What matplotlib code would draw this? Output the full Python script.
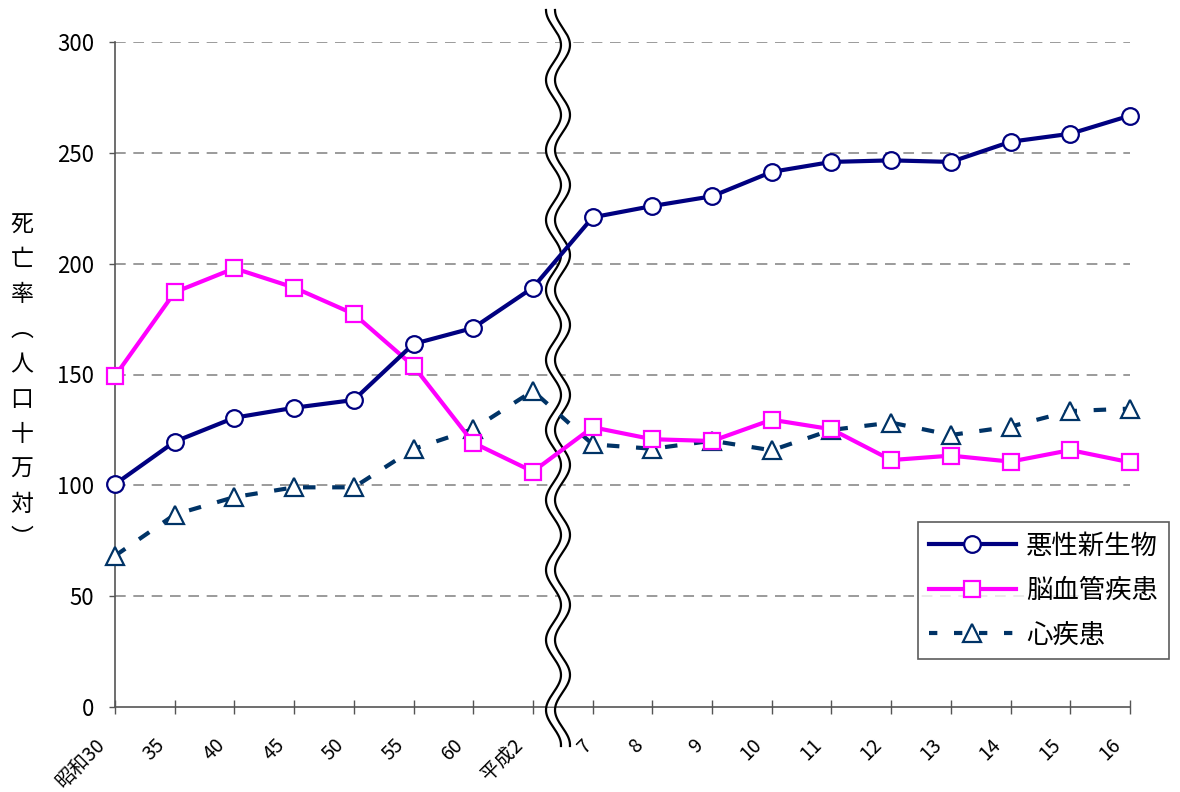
import numpy as np
import matplotlib
matplotlib.use("Agg")
import matplotlib.pyplot as plt
from matplotlib.lines import Line2D
from matplotlib.transforms import ScaledTranslation

plt.rcParams['font.family'] = ['Noto Sans CJK JP', 'DejaVu Sans']

# ---- data ----
categories = ['昭和30', '35', '40', '45', '50', '55', '60', '平成2',
              '7', '8', '9', '10', '11', '12', '13', '14', '15', '16']
cancer = [100.5, 119.7, 130.5, 135.0, 138.5, 163.8, 171.0, 189.2,
          220.9, 226.0, 230.4, 241.4, 245.9, 246.6, 245.9, 255.0, 258.6, 266.8]
stroke = [149.3, 187.1, 197.9, 189.2, 177.3, 153.8, 119.2, 106.2,
          126.2, 120.8, 120.0, 129.6, 125.3, 111.4, 113.4, 110.7, 115.9, 110.4]
heart = [68.2, 86.8, 94.7, 99.1, 99.1, 116.4, 125.4, 142.6,
         118.5, 116.5, 120.1, 115.8, 125.0, 128.3, 122.7, 126.5, 133.5, 134.6]
series_names = ['悪性新生物', '脳血管疾患', '心疾患']
ylabel_chars = ['死', '亡', '率', '︵', '人', '口', '十', '万', '対', '︶']
yticks = [0, 50, 100, 150, 200, 250, 300]

W, H = 1180, 792
fig = plt.figure(figsize=(W / 100, H / 100), dpi=100)
ax = fig.add_axes([115 / W, 1 - 707 / H, 1015 / W, 665 / H])

x = np.arange(len(categories))
ax.set_xlim(0, len(categories) - 1)
ax.set_ylim(0, 300)

# grid
for yv in yticks[1:]:
    ax.axhline(yv, color='#808080', lw=1.1, ls=(0, (7, 5)), zorder=1)

# spines
for s in ['top', 'right']:
    ax.spines[s].set_visible(False)
for s in ['left', 'bottom']:
    ax.spines[s].set_color('#555555')
    ax.spines[s].set_linewidth(1.2)

ax.set_yticks(yticks)
ax.set_yticklabels([str(v) for v in yticks], fontsize=16)
ax.tick_params(axis='y', direction='out', length=4, width=1, color='#555555', pad=11)
ax.set_xticks(x)
ax.set_xticklabels(categories, rotation=45, ha='right', va='top',
                   rotation_mode='anchor', fontsize=14)
ax.tick_params(axis='x', direction='inout', length=10, width=1, color='#555555', pad=15)
shift = ScaledTranslation(-0.2, 0, fig.dpi_scale_trans)
shift_after_break = ScaledTranslation(-0.11, 0, fig.dpi_scale_trans)
for i, lab in enumerate(ax.get_xticklabels()):
    lab.set_transform(lab.get_transform() + (shift_after_break if i == 8 else shift))

# wavy break (decoration in pixel space converted to data)
fig.canvas.draw()
inv = ax.transData.inverted()
py = np.linspace(10, 746, 700)
xc = 553.5
amp = 7.5
wave = amp * np.sin(2 * np.pi * (py - 10) / 70 - np.pi / 2)
xl_px = xc + wave
xr_px = xc + 9 + wave
ypx = H - py
left_d = inv.transform(np.column_stack([xl_px, ypx]))
right_d = inv.transform(np.column_stack([xr_px, ypx]))
mask = py <= 707
ax.fill_betweenx(left_d[mask, 1], left_d[mask, 0], right_d[mask, 0], color='white',
                 zorder=2.6, clip_on=False, lw=0)
ax.plot(left_d[:, 0], left_d[:, 1], color='black', lw=1.6, zorder=2.7, clip_on=False)
ax.plot(right_d[:, 0], right_d[:, 1], color='black', lw=1.6, zorder=2.7, clip_on=False)
ax.set_xlim(0, len(categories) - 1)
ax.set_ylim(0, 300)

# series
ax.plot(x, heart, color='#003366', lw=3, ls=(0, (3, 4)), marker='^', markersize=13,
        markerfacecolor='white', markeredgecolor='#003366', markeredgewidth=1.6,
        zorder=3, clip_on=False, label=series_names[2])
ax.plot(x, stroke, color='#FF00FF', lw=3, marker='s', markersize=12,
        markerfacecolor='white', markeredgecolor='#FF00FF', markeredgewidth=1.6,
        zorder=4, clip_on=False, label=series_names[1])
ax.plot(x, cancer, color='#000080', lw=3, marker='o', markersize=12,
        markerfacecolor='white', markeredgecolor='#000080', markeredgewidth=1.6,
        zorder=5, clip_on=False, label=series_names[0])

handles = [
    Line2D([], [], color='#000080', lw=3, marker='o', markersize=12,
           markerfacecolor='white', markeredgecolor='#000080', markeredgewidth=1.6),
    Line2D([], [], color='#FF00FF', lw=3, marker='s', markersize=12,
           markerfacecolor='white', markeredgecolor='#FF00FF', markeredgewidth=1.6),
    Line2D([], [], color='#003366', lw=3, ls=(0, (2, 4)), marker='^', markersize=13,
           markerfacecolor='white', markeredgecolor='#003366', markeredgewidth=1.6),
]
leg = fig.legend(handles, series_names, loc='upper left',
                 bbox_to_anchor=(918 / W, 1 - 522 / H), fontsize=19,
                 frameon=True, fancybox=False, edgecolor='#333333',
                 handlelength=3.3, handletextpad=0.4, borderpad=0.4,
                 labelspacing=0.66, borderaxespad=0)
leg.get_frame().set_linewidth(1.2)

fig.text(22 / W, 1 - 382 / H, '\n'.join(ylabel_chars), ha='center', va='center',
         fontsize=16.5, linespacing=1.66)

fig.savefig('out.png', dpi=100)
